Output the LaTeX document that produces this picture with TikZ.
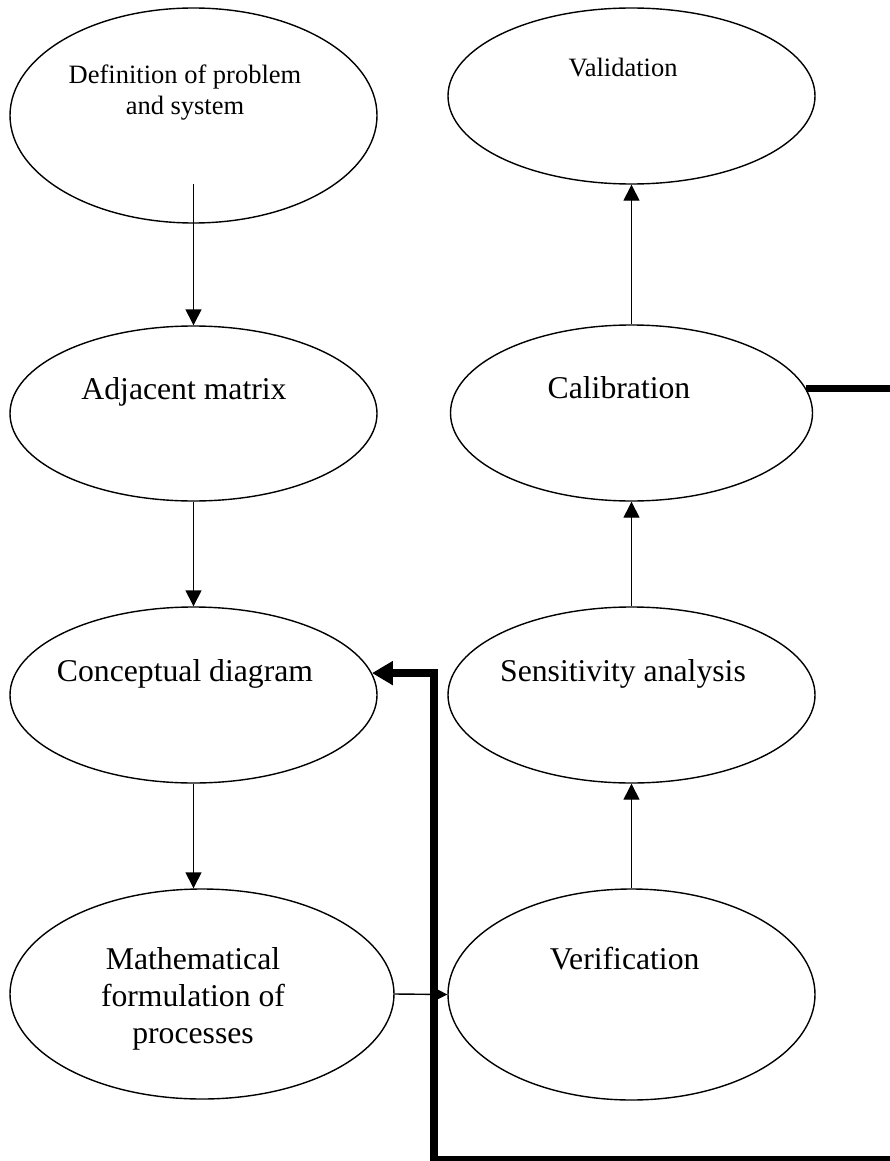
\documentclass[tikz,border=0pt]{standalone}
\usepackage{fontspec}
\setmainfont{Liberation Serif}
\usetikzlibrary{shapes.geometric,arrows.meta}
\begin{document}
\begin{tikzpicture}[x=1pt,y=-1pt,
  stage/.style={draw, ellipse, line width=1.4pt, inner sep=0pt},
  bigtext/.style={font=\fontsize{31.7}{37}\selectfont, align=center, inner sep=0pt},
  smalltext/.style={font=\fontsize{26.5}{31}\selectfont, align=center, inner sep=0pt},
  link/.style={line width=1.4pt, -{Triangle[width=16pt,length=16pt]}},
  feedback/.style={line width=7.5pt, -{Triangle[width=23pt,length=21pt]}}]
\useasboundingbox (0,0) rectangle (890,1161);
\fill[white] (0,0) rectangle (890,1161);
\clip (0,0) rectangle (890,1161);

% modelling stages, left column
\node[stage, minimum width=367pt, minimum height=215pt] (def) at (193.5,115.5) {};
\node[stage, minimum width=367pt, minimum height=175pt] (adj) at (193.5,413.5) {};
\node[stage, minimum width=367pt, minimum height=176pt] (con) at (193.5,695) {};
\node[stage, minimum width=384pt, minimum height=210pt] (math) at (202,994) {};
% modelling stages, right column
\node[stage, minimum width=367pt, minimum height=176pt] (val) at (631.5,96) {};
\node[stage, minimum width=362pt, minimum height=176pt] (cal) at (631.5,413) {};
\node[stage, minimum width=367pt, minimum height=176pt] (sen) at (631.5,695) {};
\node[stage, minimum width=367pt, minimum height=211pt] (ver) at (631.5,994.5) {};

% stage labels
\node[smalltext, anchor=center] (defT) at (185,92.3) {Definition of problem\\and system};
\node[smalltext, anchor=base] (valT) at (623,77) {Validation};
\node[bigtext, anchor=base] (adjT) at (184,399) {Adjacent matrix};
\node[bigtext, anchor=base] (calT) at (619,398) {Calibration};
\node[bigtext, anchor=base] (conT) at (185,681) {Conceptual diagram};
\node[bigtext, anchor=base] (senT) at (623,681) {Sensitivity analysis};
\node[bigtext, anchor=base] (verT) at (624.6,969) {Verification};
\node[bigtext, anchor=center] (mathT) at (193,998.6) {Mathematical\\formulation of\\processes};

% forward flow
\coordinate (defout) at (193.5,184);
\draw[link] (defout) -- (adj.north);
\draw[link] (adj.south) -- (con.north);
\draw[link] (con.south) -- (con.south |- math.north);
\draw[link] (math.east) -- (ver.west);
\draw[link] (ver.north) -- (sen.south);
\draw[link] (sen.north) -- (cal.south);
\draw[link] (cal.north) -- (val.south);

% feedback loop from calibration back to the conceptual diagram
\coordinate (fbcorner) at (915,1160);
\coordinate (fbspine) at (434,1160);
\draw[feedback] (cal.8.4) -- (cal.8.4 -| fbcorner) -- (fbcorner) -- (fbspine)
  -- (fbspine |- con.7.4) -- (con.7.4);
\end{tikzpicture}
\end{document}
